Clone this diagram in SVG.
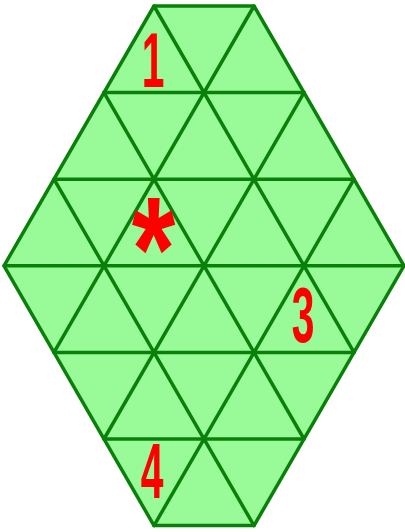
<svg xmlns="http://www.w3.org/2000/svg" width="405" height="532" viewBox="0 0 405 532">
<style>
.grid{stroke:#0a800a;stroke-width:3.5;fill:none;stroke-linecap:round;stroke-linejoin:round}
.shape{fill:#98fb98;stroke:#0a800a;stroke-width:3.5;stroke-linejoin:round}
.lbl{fill:#ff0000;font-family:"Liberation Sans",Arial,sans-serif;font-weight:bold;text-anchor:middle}
</style>
<g id="hexagon">
<polygon class="shape" points="154,6 254,6 404,265.8 254,525.6 154,525.6 4,265.8"/>
</g>
<g id="connectors" class="grid">
<line x1="104" y1="92.6" x2="304" y2="92.6"/>
<line x1="54" y1="179.2" x2="354" y2="179.2"/>
<line x1="4" y1="265.8" x2="404" y2="265.8"/>
<line x1="54" y1="352.4" x2="354" y2="352.4"/>
<line x1="104" y1="439" x2="304" y2="439"/>
<line x1="54" y1="179.2" x2="254" y2="525.6"/>
<line x1="104" y1="92.6" x2="304" y2="439"/>
<line x1="154" y1="6" x2="354" y2="352.4"/>
<line x1="354" y1="179.2" x2="154" y2="525.6"/>
<line x1="304" y1="92.6" x2="104" y2="439"/>
<line x1="254" y1="6" x2="54" y2="352.4"/>
</g>
<g id="label-1"><text class="lbl" font-size="77" transform="translate(153,87) scale(0.53,1)">1</text></g>
<g id="label-star"><text class="lbl" font-size="112" transform="translate(153.5,300) scale(1,1.32)">*</text></g>
<g id="label-3"><text class="lbl" font-size="77" transform="translate(303,342) scale(0.53,1)">3</text></g>
<g id="label-4"><text class="lbl" font-size="77" transform="translate(152,498) scale(0.53,1)">4</text></g>
</svg>
